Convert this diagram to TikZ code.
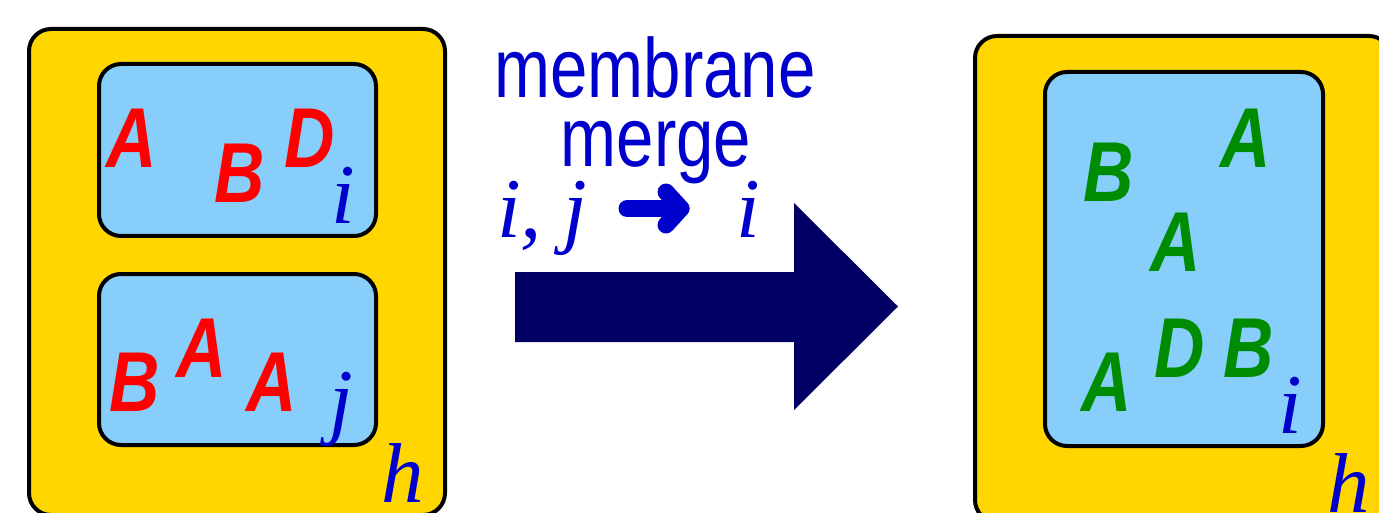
\documentclass[tikz,border=0pt]{standalone}
\usepackage{fontspec}
\setmainfont{Liberation Sans}
\newfontfamily\lblfont[FakeStretch=0.8]{Liberation Sans}
\newfontfamily\molfont[FakeStretch=0.82]{Liberation Sans}
\newfontfamily\varfont{Liberation Serif}
\definecolor{memyellow}{RGB}{255,214,0}
\definecolor{memblue}{RGB}{135,206,250}
\definecolor{molred}{RGB}{255,0,0}
\definecolor{molgreen}{RGB}{0,140,0}
\definecolor{txtblue}{RGB}{0,0,205}
\definecolor{navyarrow}{RGB}{0,0,100}
\tikzset{
  outerbox/.style={draw=black, line width=4pt, fill=memyellow, rounded corners=22pt, inner sep=0pt},
  innerbox/.style={draw=black, line width=4pt, fill=memblue, rounded corners=22pt, inner sep=0pt},
  molred/.style={anchor=base, inner sep=0pt, text=molred, font=\molfont\bfseries\itshape\fontsize{85}{85}\selectfont},
  molgreen/.style={anchor=base, inner sep=0pt, text=molgreen, font=\molfont\bfseries\itshape\fontsize{85}{85}\selectfont},
  varlbl/.style={anchor=base, inner sep=0pt, text=txtblue, font=\varfont\itshape\fontsize{85}{85}\selectfont},
  caption/.style={anchor=base, inner sep=0pt, text=txtblue, font=\lblfont\fontsize{84}{84}\selectfont}
}
\begin{document}
\begin{tikzpicture}[x=1pt,y=-1pt]
\useasboundingbox (0,0) rectangle (1379,513);
% left configuration
\node[outerbox, minimum width=416pt, minimum height=486pt] (hL) at (237,272) {};
\node[innerbox, minimum width=277pt, minimum height=172pt] (iL) at (237.5,150) {};
\node[innerbox, minimum width=277pt, minimum height=171pt] (jL) at (237.5,359.5) {};
\node[molred] (a1) at (132,168) {A};
\node[molred] (b1) at (240,203) {B};
\node[molred] (d1) at (310,168) {D};
\node[varlbl] (ilbl) at (343,224) {i};
\node[molred] (b2) at (135,411) {B};
\node[molred] (a2) at (202,377) {A};
\node[molred] (a3) at (272,411) {A};
\node[varlbl] (jlbl) at (341,428) {j};
\node[varlbl] (hlblL) at (403,502) {h};
% middle
\node[caption] (cap1) at (655,98) {membrane};
\node[caption] (cap2) at (656,167) {merge};
\node[varlbl, anchor=base west] (ij) at (497,237) {i, j};
\node[varlbl] (ires) at (748,237) {i};
\coordinate (sa) at (627,208.5);
\coordinate (sb) at (681,208.5);
\draw[txtblue, line width=17pt, line cap=round, line join=round] (sa) -- (sb);
\draw[txtblue, line width=17pt, line cap=round, line join=round] (666,192) -- (sb) -- (666,225);
\fill[navyarrow] (515,272) -- (794,272) -- (794,203) -- (898,306.5) -- (794,410) -- (794,342) -- (515,342) -- cycle;
% right configuration
\node[outerbox, minimum width=416pt, minimum height=486pt] (hR) at (1183,279) {};
\node[innerbox, minimum width=278pt, minimum height=374pt] (iR) at (1184,259) {};
\node[molgreen] (g1) at (1109,202) {B};
\node[molgreen] (g2) at (1246,168) {A};
\node[molgreen] (g3) at (1176,272) {A};
\node[molgreen] (g4) at (1107,411) {A};
\node[molgreen] (g5) at (1180,377) {D};
\node[molgreen] (g6) at (1249,377) {B};
\node[varlbl] (ilblR) at (1290,433) {i};
\node[varlbl] (hlblR) at (1349,512) {h};
\end{tikzpicture}
\end{document}
